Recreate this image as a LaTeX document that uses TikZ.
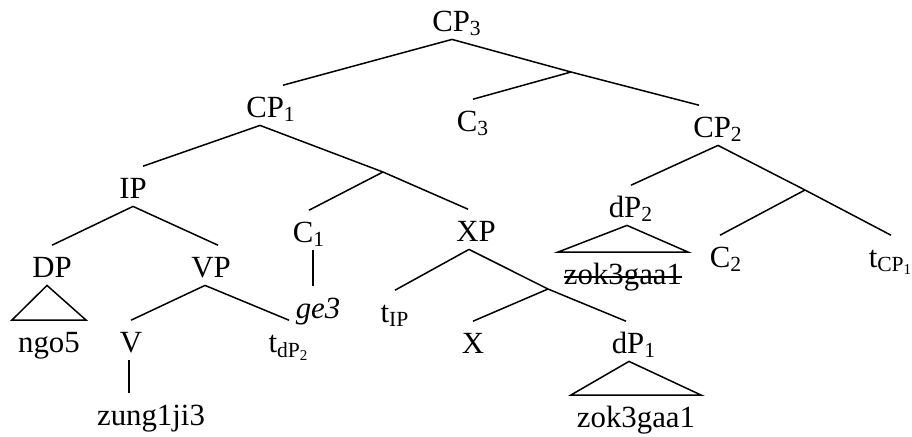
\documentclass[tikz,border=0pt]{standalone}
\usepackage{fontspec}
\setmainfont{Liberation Serif}
\tikzset{
  cat/.style={anchor=base, text height=11.7pt, text depth=0pt, inner xsep=3pt, inner ysep=4pt},
  branch/.style={line width=0.75pt},
}

\begin{document}
\begin{tikzpicture}[x=0.5pt, y=-0.5pt, font=\fontsize{15.4}{18}\selectfont]
  \useasboundingbox (0,0) rectangle (912,436);
  % category labels
  \node[cat] (cp3) at (457,31) {CP\textsubscript{3}};
  \node[cat] (cp1) at (271,117) {CP\textsubscript{1}};
  \node[cat] (c3) at (473,131) {C\textsubscript{3}};
  \node[cat] (cp2) at (718,137) {CP\textsubscript{2}};
  \node[cat] (ip) at (133,198) {IP};
  \node[cat] (c1) at (309,242) {C\textsubscript{1}};
  \node[cat] (xp) at (476,241) {XP};
  \node[cat] (dp2) at (631,217) {dP\textsubscript{2}};
  \node[cat] (dp) at (52,277) {DP};
  \node[cat] (vp) at (211,277) {VP};
  \node[cat] (c2) at (726,267) {C\textsubscript{2}};
  \node[cat] (tcp1) at (891,267) {t\textsubscript{CP\textsubscript{1}}};
  \node[cat] (tip) at (395,322) {t\textsubscript{IP}};
  \node[cat] (v) at (131,352) {V};
  \node[cat] (tdp2) at (289,352) {t\textsubscript{dP\textsubscript{2}}};
  \node[cat] (x) at (473,353) {X};
  \node[cat] (dp1) at (634,353) {dP\textsubscript{1}};
  % words
  \node[cat] (ge3) at (318,318) {\textit{ge3}};
  \node[cat] (dzok) at (623,284) {zok3gaa1};
  \node[cat] (ngo) at (49,352) {ngo5};
  \node[cat] (zung) at (151,425) {zung1ji3};
  \node[cat] (zok) at (636,427) {zok3gaa1};
  % bar-level branching points
  \coordinate (c3bar) at (571,72);
  \coordinate (cp1bar) at (383,172);
  \coordinate (cp2bar) at (805,190);
  \coordinate (xpbar) at (548,289);

  % CP3
  \draw[branch] ([xshift=-2.5pt]cp3.south) -- ([xshift=6pt]cp1.north);
  \draw[branch] ([xshift=-2.5pt]cp3.south) -- (c3bar) -- ([xshift=-9.5pt]cp2.north);
  \draw[branch] (c3bar) -- (c3.north);
  % CP1
  \draw[branch] ([xshift=-5.5pt]cp1.south) -- ([xshift=5pt]ip.north);
  \draw[branch] ([xshift=-5.5pt]cp1.south) -- (cp1bar);
  \draw[branch] (cp1bar) -- (c1.north);
  \draw[branch] (cp1bar) -- ([xshift=-4pt]xp.north);
  \draw[branch] ([xshift=2pt]c1.south) -- ([xshift=2pt]c1.south |- ge3.north);
  % IP
  \draw[branch] (ip.south) -- (dp.north);
  \draw[branch] (ip.south) -- ([xshift=3.5pt]vp.north);
  \draw[branch] ([xshift=-2.5pt]dp.south) -- (ngo.north west) -- (ngo.north east) -- cycle;
  \draw[branch] ([xshift=-3pt]vp.south) -- (v.north);
  \draw[branch] ([xshift=-3pt]vp.south) -- (tdp2.north);
  \draw[branch] ([xshift=-1pt]v.south) -- ([xshift=-1pt]v.south |- zung.north);
  % XP
  \draw[branch] ([xshift=-3.5pt]xp.south) -- (tip.north);
  \draw[branch] ([xshift=-3.5pt]xp.south) -- (xpbar) -- ([xshift=-4pt]dp1.north);
  \draw[branch] (xpbar) -- (x.north);
  \draw[branch] ([xshift=-2.5pt]dp1.south) -- (zok.north west) -- (zok.north east) -- cycle;
  % CP2
  \draw[branch] (cp2.south) -- (dp2.north);
  \draw[branch] (cp2.south) -- (cp2bar) -- (tcp1.north);
  \draw[branch] (cp2bar) -- ([xshift=-3pt]c2.north);
  \draw[branch] ([xshift=-2pt]dp2.south) -- (dzok.north west) -- (dzok.north east) -- cycle;
  % struck-out copy
  \draw[line width=0.6pt] ([shift={(3pt,3.5pt)}]dzok.base west) -- ([shift={(-3pt,3.5pt)}]dzok.base east);
\end{tikzpicture}
\end{document}
